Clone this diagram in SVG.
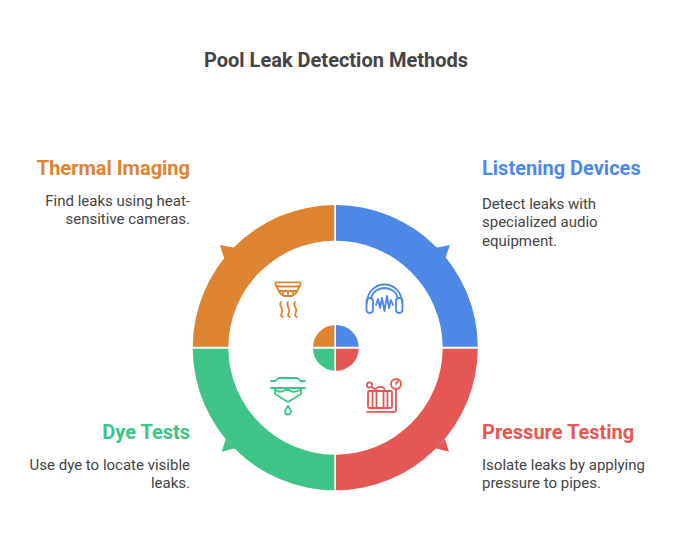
<svg xmlns="http://www.w3.org/2000/svg" width="684" height="540" viewBox="0 0 684 540">
<style>
text{font-family:"Roboto","Liberation Sans",sans-serif}
.title{font-size:20px;font-weight:700;fill:#444}
.head{font-size:20px;font-weight:700}
.body{font-size:15px;fill:#444}
.end{text-anchor:end}
.ic{fill:none;stroke-width:1.800;stroke-linecap:round;stroke-linejoin:round}
</style>
<rect width="684" height="540" fill="#fff"/>
<text class="title" x="336" y="66.500" text-anchor="middle">Pool Leak Detection Methods</text>
<g id="connectors"></g>
<g id="listening-devices">
<path fill="#4e88e7" d="M336 205A142.600 142.600 0 0 1 477.800 346.700H442.700A107.300 107.300 0 0 0 336 240.700Z"/>
<path fill="#4e88e7" d="M436 247.700L450 245L445.300 258Z"/>
<path fill="#4e88e7" d="M336 325A22.800 22.800 0 0 1 358.800 346.700H336Z"/>
<g class="ic" stroke="#4e88e7">
<path d="M367 303C367 292 375 284.500 384.500 284.500C394 284.500 402 292 402 303"/>
<path d="M371 298C372.500 292 378 288 384.500 288C391 288 396.500 292 398 298"/>
<rect x="366.500" y="298" width="6.500" height="15" rx="3.200"/>
<rect x="396" y="298" width="6.500" height="15" rx="3.200"/>
<path d="M376 305L378 299L380 308L382 298L384.500 311L387 296L389 308L391 300L393 305"/>
</g>
<text class="head" x="482" y="174.500" fill="#4e88e7">Listening Devices</text>
<text class="body" x="482" y="208.500">Detect leaks with</text>
<text class="body" x="482" y="227">specialized audio</text>
<text class="body" x="482" y="245.500">equipment.</text>
</g>
<g id="pressure-testing">
<path fill="#e55753" d="M477.800 348.700A142.600 142.600 0 0 1 336 490.300V454.700A107.300 107.300 0 0 0 442.700 348.700Z"/>
<path fill="#e55753" d="M445 439L449 451.700L435.700 448.300Z"/>
<path fill="#e55753" d="M358.800 348.700A22.800 22.800 0 0 1 336 370.800V348.700Z"/>
<g class="ic" stroke="#e55753">
<rect x="368" y="391" width="24" height="17" rx="1.500"/>
<path d="M372.500 391V408M376.500 391V408M383.500 391V408M387.500 391V408"/>
<path d="M375.500 391C375.500 385.500 385 385.500 385 391M375 389L371.500 387"/>
<circle cx="369.500" cy="385" r="2.600"/>
<circle cx="396" cy="384" r="5"/>
<path d="M396 384L398 381M396 389V410C396 411.500 395 411.800 394 411.800H367"/>
</g>
<text class="head" x="482" y="438.500" fill="#e55753">Pressure Testing</text>
<text class="body" x="482" y="470">Isolate leaks by applying</text>
<text class="body" x="482" y="488">pressure to pipes.</text>
</g>
<g id="dye-tests">
<path fill="#3dc486" d="M192.700 348.700A142.600 142.600 0 0 0 334.300 490.300V454.700A107.300 107.300 0 0 1 228.300 348.700Z"/>
<path fill="#3dc486" d="M225.700 439.300L221.700 451.700L235 448.300Z"/>
<path fill="#3dc486" d="M313 348.700A22.800 22.800 0 0 0 334.300 370.800V348.700Z"/>
<g class="ic" stroke="#3dc486">
<path d="M271 381H275C277 381 277 378 279 378H297C299 378 299 381 301 381H305"/>
<path d="M271 388H305"/>
<path d="M276 390C279 392.500 281 392.500 284 390.500C286 389.500 288 389.500 290 390.500C292 392.500 295 392.500 300 390"/>
<path d="M275 388V394L288 402L301 394V388"/>
<path d="M288 406C286 409 285 410 285 411.500A2.800 2.800 0 0 0 291 411.500C291 410 290 409 288 406Z"/>
</g>
<text class="head end" x="190" y="438.500" fill="#3dc486">Dye Tests</text>
<text class="body end" x="190" y="470">Use dye to locate visible</text>
<text class="body end" x="190" y="488">leaks.</text>
</g>
<g id="thermal-imaging">
<path fill="#de8431" d="M334.300 205A142.600 142.600 0 0 0 192.700 346.700H228.300A107.300 107.300 0 0 1 334.300 240.700Z"/>
<path fill="#de8431" d="M235 247.700L220 245L224.300 259Z"/>
<path fill="#de8431" d="M334.300 325A22.800 22.800 0 0 0 313 346.700H334.300Z"/>
<g class="ic" stroke="#de8431">
<path d="M277 282.300H299C300.500 282.300 301 283 300.500 284.500L299.500 286.500H276.500L275.500 284.500C275 283 275.500 282.300 277 282.300Z"/>
<path d="M277 286.500C278 291 281 294.500 284 296H292C295 294.500 298 291 299 286.500"/>
<path d="M279 291H297M283 291V295M288 291V296M293 291V295"/>
<path d="M281 302C278 306 284 308 282 312C281 315 280 316 283 317"/>
<path d="M288 302C285 306 291 308 289 312C288 315 287 316 290 317"/>
<path d="M295 302C292 306 298 308 296 312C295 315 294 316 297 317"/>
</g>
<text class="head end" x="190" y="174.500" fill="#de8431">Thermal Imaging</text>
<text class="body end" x="190" y="205.500">Find leaks using heat-</text>
<text class="body end" x="190" y="224">sensitive cameras.</text>
</g>
</svg>
